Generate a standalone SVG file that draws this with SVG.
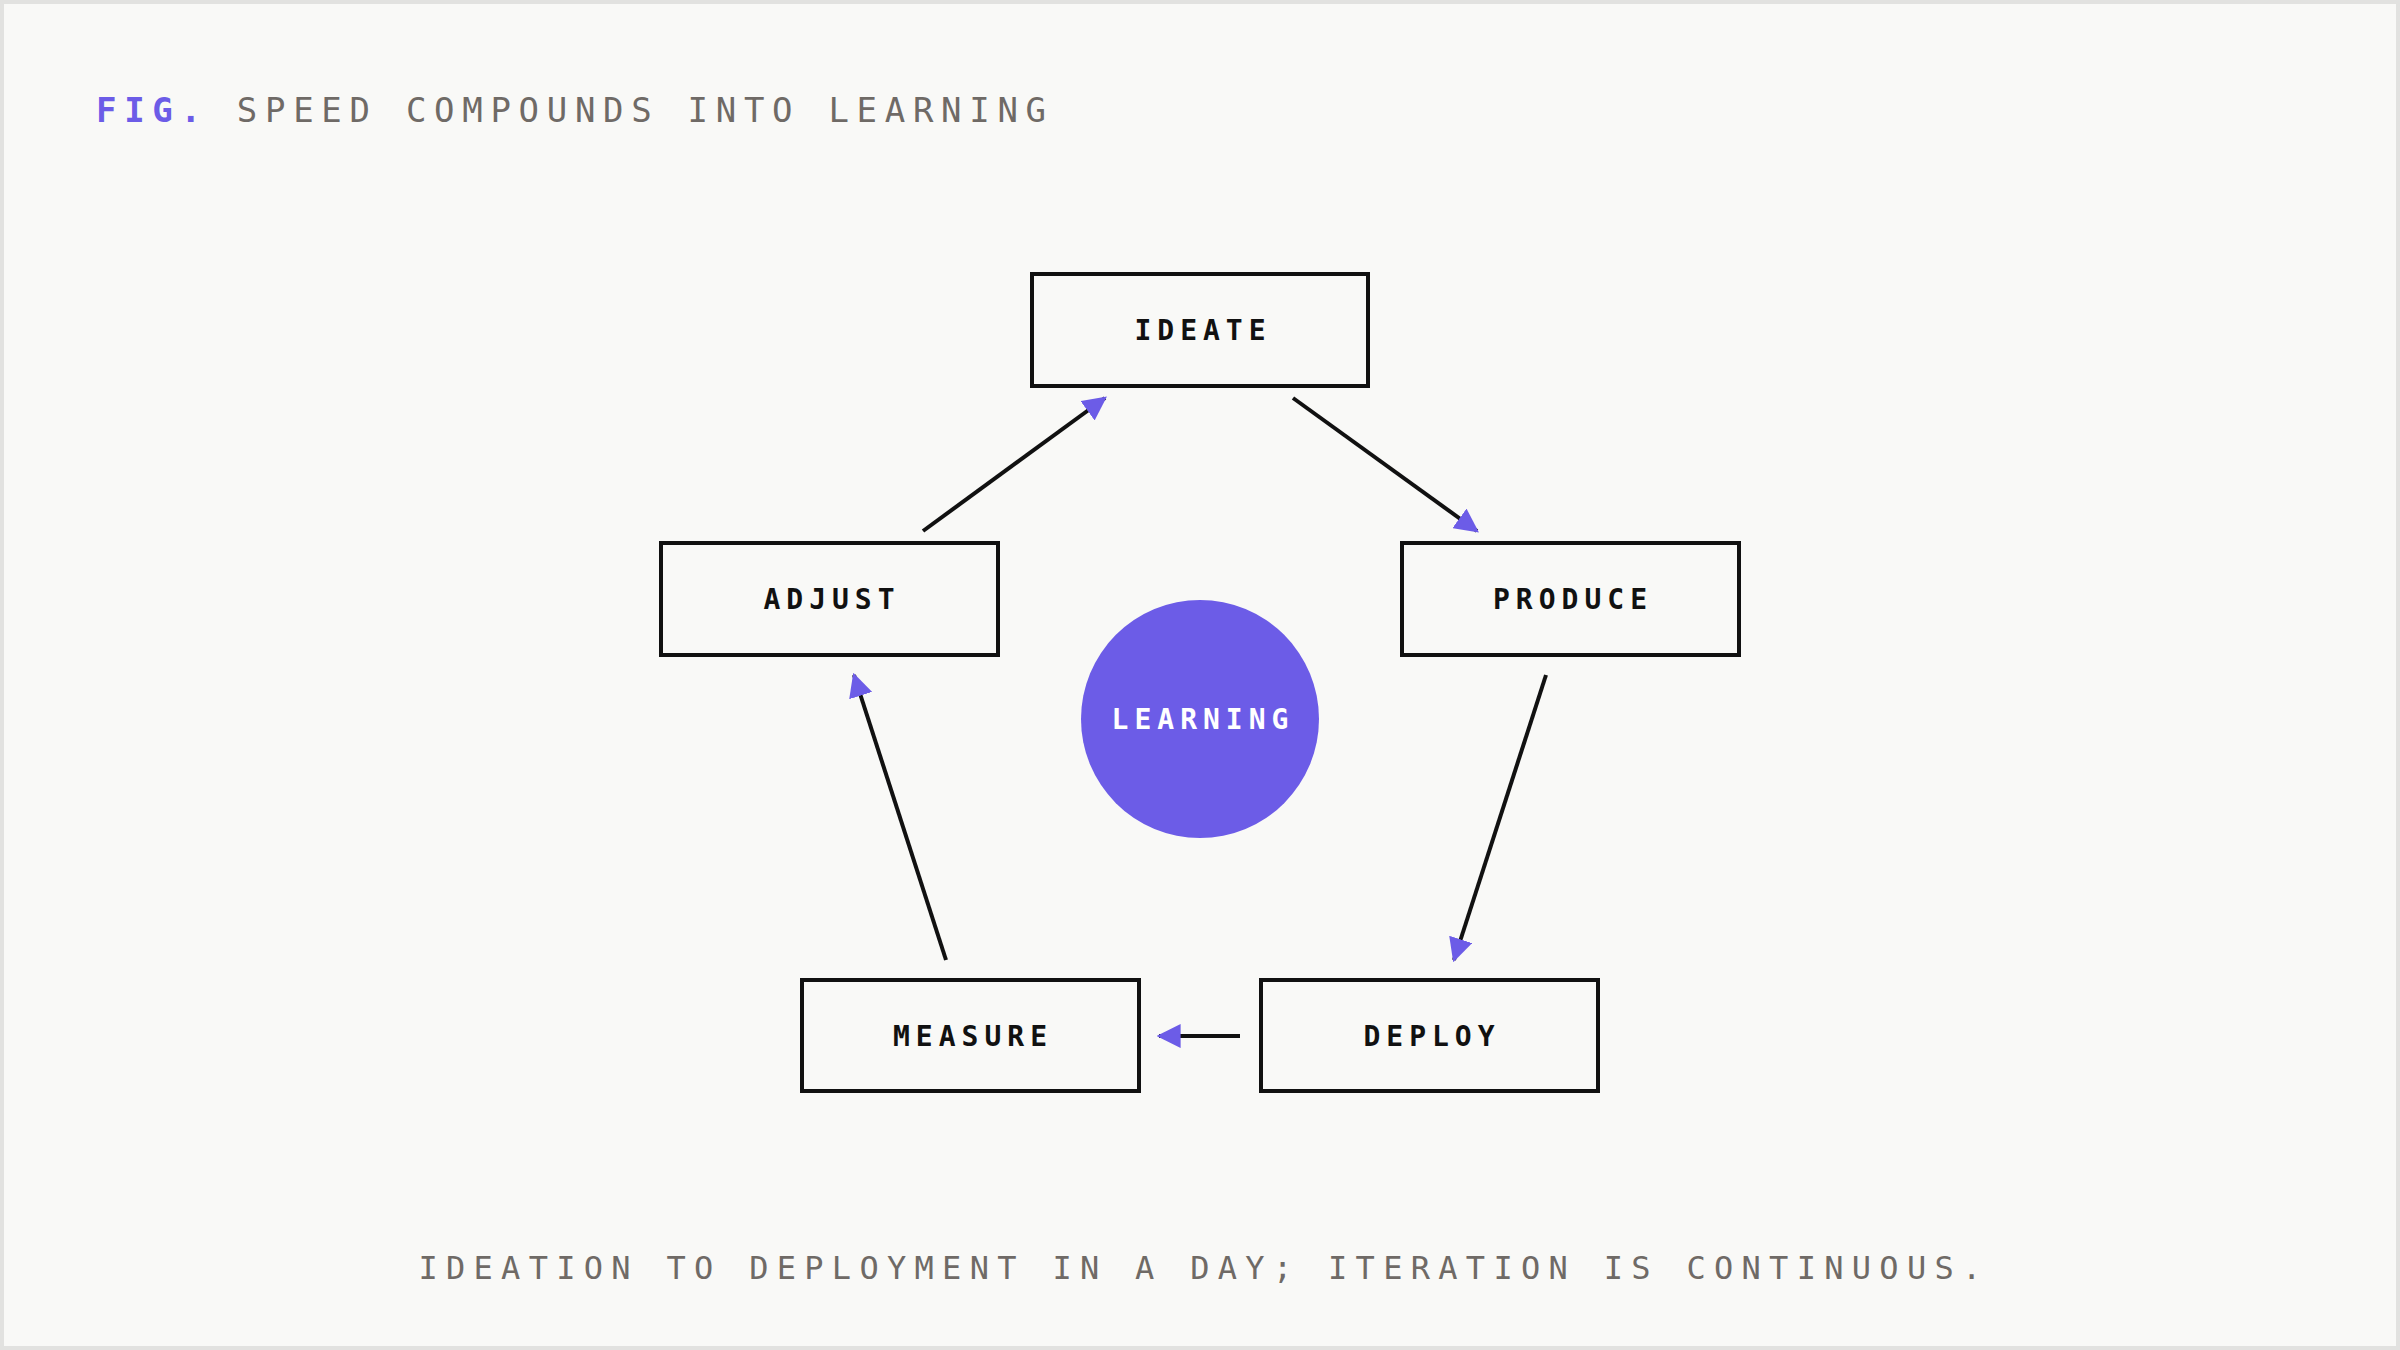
<svg xmlns="http://www.w3.org/2000/svg" width="2400" height="1350" viewBox="0 0 2400 1350">
<style>
.bg{fill:#f9f9f7;stroke:#e2e2e0;stroke-width:4}
.box{fill:none;stroke:#111;stroke-width:4}
.lbl{font-family:"DejaVu Sans Mono",monospace;font-weight:bold;font-size:28px;letter-spacing:6px;fill:#111;text-anchor:middle}
.ttl{font-family:"DejaVu Sans Mono",monospace;font-size:34px;letter-spacing:7.7px;fill:#6f6a66}
.ft{font-family:"DejaVu Sans Mono",monospace;font-size:32px;letter-spacing:8.3px;fill:#6f6a66;text-anchor:middle}
.con{stroke:#111;stroke-width:4;fill:none;marker-end:url(#ah)}
</style>
<defs>
<marker id="ah" viewBox="0 0 10 10" refX="9" refY="5" markerWidth="6" markerHeight="6" markerUnits="strokeWidth" orient="auto">
<path d="M0,0L10,5L0,10z" fill="#6c5ce7"/>
</marker>
</defs>
<rect class="bg" x="2" y="2" width="2396" height="1346"/>
<text class="ttl" x="96" y="122"><tspan fill="#6c5ce7" font-weight="bold">FIG.</tspan> SPEED COMPOUNDS INTO LEARNING</text>
<g id="connectors">
<line class="con" x1="923" y1="531" x2="1105" y2="398"/>
<line class="con" x1="1293" y1="398" x2="1477" y2="531"/>
<line class="con" x1="1546" y1="675" x2="1454" y2="960"/>
<line class="con" x1="1240" y1="1036" x2="1159" y2="1036"/>
<line class="con" x1="946" y1="960" x2="854" y2="675"/>
</g>
<g id="ideate"><rect class="box" x="1032" y="274" width="336" height="112"/><text class="lbl" x="1203" y="340">IDEATE</text></g>
<g id="adjust"><rect class="box" x="661" y="543" width="337" height="112"/><text class="lbl" x="832" y="609">ADJUST</text></g>
<g id="produce"><rect class="box" x="1402" y="543" width="337" height="112"/><text class="lbl" x="1573" y="609">PRODUCE</text></g>
<g id="measure"><rect class="box" x="802" y="980" width="337" height="111"/><text class="lbl" x="973" y="1046">MEASURE</text></g>
<g id="deploy"><rect class="box" x="1261" y="980" width="337" height="111"/><text class="lbl" x="1432" y="1046">DEPLOY</text></g>
<g id="learning"><circle cx="1200" cy="719" r="119" fill="#6c5ce7"/><text class="lbl" x="1203" y="729" fill="#fff" style="fill:#fff">LEARNING</text></g>
<text class="ft" x="1204" y="1279">IDEATION TO DEPLOYMENT IN A DAY; ITERATION IS CONTINUOUS.</text>
</svg>
